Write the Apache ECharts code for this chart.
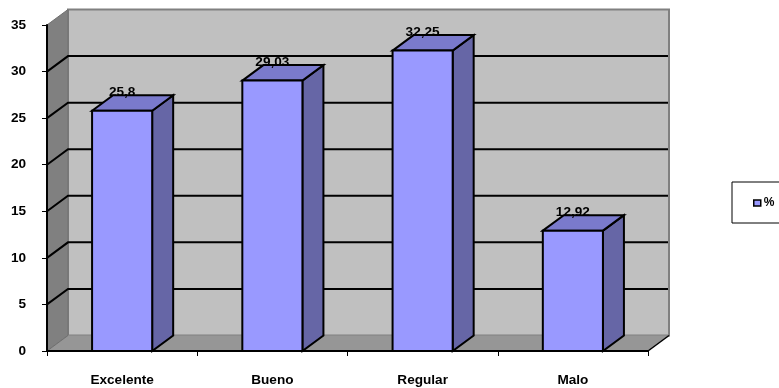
<!DOCTYPE html>
<html><head><meta charset="utf-8">
<style>html,body{margin:0;padding:0;background:#fff}#c{width:779px;height:388px}</style>
<script src="https://cdn.jsdelivr.net/npm/echarts@6/dist/echarts.min.js"></script>
</head><body><div id="c"></div>
<script>
const categories = ['Excelente', 'Bueno', 'Regular', 'Malo'];
const values = [25.8, 29.03, 32.25, 12.92];
const valueLabels = ['25,8', '29,03', '32,25', '12,92'];
const gridTicks = [5, 10, 15, 20, 25, 30];
const seriesName = '%';

const FONT = '"Liberation Sans", Arial, sans-serif';
const DX = 21, DY = -15.5;
const chart = echarts.init(document.getElementById('c'), null, {renderer: 'canvas'});

function poly(points, fill, stroke, lw) {
  return {type: 'polygon', shape: {points}, style: {fill, stroke: stroke || null, lineWidth: lw || 0, lineJoin: 'miter'}};
}
function line(x1, y1, x2, y2, stroke, lw) {
  return {type: 'line', shape: {x1, y1, x2, y2}, style: {stroke, lineWidth: lw, fill: null}};
}

function renderWalls(params) {
  const r = params.coordSys;
  const l = r.x, t = r.y, R = r.x + r.width, b = r.y + r.height;
  return {type: 'group', children: [
    poly([[l + DX, t + DY], [R + DX, t + DY], [R + DX, b + DY], [l + DX, b + DY]], '#C0C0C0', '#808080', 2),
    poly([[l, t], [l + DX, t + DY], [l + DX, b + DY], [l, b]], '#808080', '#707070', 1),
    poly([[l, b], [l + DX, b + DY], [R + DX, b + DY], [R, b]], '#969696', null, 0),
    line(l, b, l + DX, b + DY, '#707070', 1),
    line(R, b, R + DX, b + DY, '#000', 1.5)
  ]};
}
function renderGrid(params, api) {
  const r = params.coordSys;
  const y = api.coord([0, api.value(1)])[1];
  const l = r.x, R = r.x + r.width;
  return {type: 'polyline', shape: {points: [[l, y], [l + DX, y + DY], [R + DX - 1, y + DY]]},
    style: {stroke: '#000', lineWidth: 2, fill: null}};
}
function renderBar(params, api) {
  const i = api.value(0);
  const top = api.coord([i, api.value(1)]);
  const base = api.coord([i, 0]);
  const w = api.size([1, 0])[0] * 0.4;
  const x0 = top[0] - w / 2, x1 = top[0] + w / 2, y0 = top[1], y1 = base[1];
  const S = '#000', L = 2;
  return {type: 'group', children: [
    poly([[x1, y0], [x1 + DX, y0 + DY], [x1 + DX, y1 + DY], [x1, y1]], '#6666A6', S, L),
    poly([[x0, y0], [x0 + DX, y0 + DY], [x1 + DX, y0 + DY], [x1, y0]], '#7A7ACC', S, L),
    poly([[x0, y0], [x1, y0], [x1, y1], [x0, y1]], '#9999FF', S, L),
    {type: 'text', x: top[0], y: y0 - 18.5, z2: 10, style: {text: valueLabels[params.dataIndex], x: 0, y: 0,
      align: 'center', verticalAlign: 'middle', fill: '#000', font: 'bold 13.6px ' + FONT}}
  ]};
}

chart.setOption({
  animation: false,
  backgroundColor: '#fff',
  grid: {left: 47, right: 131, top: 25, bottom: 37, containLabel: false},
  legend: {
    data: [{name: seriesName, icon: 'rect', itemStyle: {color: '#9999FF', borderColor: '#000', borderWidth: 1.5}}],
    left: 732, top: 182, orient: 'vertical',
    padding: [15, 14, 14, 21], itemWidth: 7, itemHeight: 6, itemGap: 0,
    borderColor: '#000', borderWidth: 1, backgroundColor: '#fff',
    textStyle: {fontFamily: FONT, fontWeight: 'bold', fontSize: 12, color: '#000', padding: [0, 0, 0, -2]}
  },
  xAxis: {
    type: 'category', data: categories, z: 5,
    axisLine: {lineStyle: {color: '#000', width: 2}},
    axisTick: {show: true, length: 5, alignWithLabel: false, lineStyle: {color: '#000', width: 1}},
    axisLabel: {fontFamily: FONT, fontWeight: 'bold', fontSize: 13.6, color: '#000', margin: 22.5},
    splitLine: {show: false}
  },
  yAxis: {
    type: 'value', min: 0, max: 35, interval: 5, z: 5,
    axisLine: {show: true, lineStyle: {color: '#000', width: 2}},
    axisTick: {show: true, length: 5, lineStyle: {color: '#000', width: 1}},
    axisLabel: {fontFamily: FONT, fontWeight: 'bold', fontSize: 13.6, color: '#000', margin: 21, padding: [3, 0, 0, 0]},
    splitLine: {show: false}
  },
  series: [
    {type: 'custom', name: 'walls', silent: true, z: 1, renderItem: renderWalls, data: [[0, 0]], encode: {x: 0, y: 1}},
    {type: 'custom', name: 'gridlines', silent: true, z: 1.5, renderItem: renderGrid, data: gridTicks.map(v => [0, v]), encode: {x: 0, y: 1}},
    {type: 'custom', name: seriesName, z: 2, renderItem: renderBar, itemStyle: {color: '#9999FF'},
     data: values.map((v, i) => [i, v]), encode: {x: 0, y: 1}}
  ]
});
</script></body></html>
